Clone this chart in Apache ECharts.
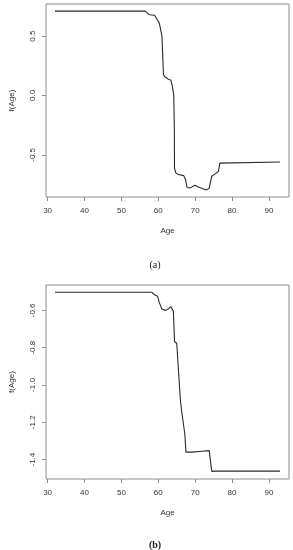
<!DOCTYPE html>
<html>
<head>
<meta charset="utf-8">
<script src="https://cdn.jsdelivr.net/npm/echarts@6/dist/echarts.min.js"></script>
<style>html,body{margin:0;padding:0;background:#fff}#c{width:293px;height:550px}</style>
</head>
<body>
<div id="c"></div>
<script>
// Panel (a)
const ageA = [32, 56.5, 57.5, 59.0, 59.5, 60.3, 61.0, 61.4, 61.7, 62.8, 63.4, 63.8, 64.2, 64.35, 64.4, 64.7, 65.4, 66.9, 67.4, 67.8, 68.7, 69.9, 70.9, 72.3, 73.1, 73.8, 74.5, 75.4, 76.3, 76.7, 76.95, 93];
const fA = [0.71, 0.71, 0.68, 0.675, 0.65, 0.607, 0.5, 0.177, 0.16, 0.135, 0.13, 0.08, 0.0, -0.28, -0.61, -0.65, -0.666, -0.675, -0.71, -0.775, -0.778, -0.756, -0.77, -0.787, -0.795, -0.78, -0.68, -0.66, -0.64, -0.57, -0.56, -0.56];
// Panel (b)
const ageB = [32, 58.3, 58.9, 59.8, 60.3, 61.0, 62.0, 62.7, 63.4, 64.1, 64.4, 65.0, 66.0, 66.4, 66.9, 67.2, 67.5, 67.8, 69.1, 71.8, 73.8, 73.95, 74.5, 75.4, 93];
const fB = [-0.503, -0.503, -0.515, -0.524, -0.56, -0.593, -0.6, -0.593, -0.58, -0.605, -0.768, -0.776, -1.083, -1.15, -1.158, -1.263, -1.36, -1.363, -1.36, -1.355, -1.352, -1.355, -1.463, -1.462, -1.462];
// Tick labels
const xTicks = [30, 40, 50, 60, 70, 80, 90];
const yTicksA = [-0.5, 0.0, 0.5];
const yTicksB = [-1.4, -1.2, -1.0, -0.8, -0.6];
const captions = ['(a)', '(b)'];

const pair = (xs, ys) => xs.map((x, i) => [x, ys[i]]);
const txt = '#333';
const boxC = '#8c8c8c';
const font = "'Liberation Sans', Arial, sans-serif";
const serif = "'Liberation Serif', 'Times New Roman', serif";

function xAxis(gi) {
  return {
    type: 'value', gridIndex: gi, min: 29.56, max: 95.44,
    axisLine: {show: false, onZero: false}, splitLine: {show: false},
    axisTick: {show: true, length: 4, customValues: xTicks, lineStyle: {color: boxC}},
    axisLabel: {customValues: xTicks, margin: 10, fontSize: 8, color: txt, fontFamily: font},
    name: 'Age', nameLocation: 'middle', nameGap: 30,
    nameTextStyle: {fontSize: 8, color: txt, fontFamily: font}
  };
}
function yAxis(gi, min, max, ticks) {
  return {
    type: 'value', gridIndex: gi, min: min, max: max,
    axisLine: {show: false, onZero: false}, splitLine: {show: false},
    axisTick: {show: true, length: 4, customValues: ticks, lineStyle: {color: boxC}},
    axisLabel: {customValues: ticks, rotate: 90, margin: 9, fontSize: 8, color: txt, fontFamily: font,
      formatter: v => v.toFixed(1)},
    name: 'f(Age)', nameLocation: 'middle', nameGap: 30, nameRotate: 90,
    nameTextStyle: {fontSize: 8, color: txt, fontFamily: font}
  };
}

const chart = echarts.init(document.getElementById('c'), null, {renderer: 'canvas'});
chart.setOption({
  animation: false,
  backgroundColor: '#fff',
  textStyle: {fontFamily: font},
  title: [
    {text: captions[0], left: 150, top: 255, textAlign: 'center',
     textStyle: {fontSize: 10, fontWeight: 'normal', color: '#222', fontFamily: serif}},
    {text: captions[1], left: 150, top: 535, textAlign: 'center',
     textStyle: {fontSize: 10, fontWeight: 'bold', color: '#222', fontFamily: serif}}
  ],
  grid: [
    {left: 41, top: 4, width: 248, height: 193, show: true, borderColor: boxC, borderWidth: 1, backgroundColor: 'transparent'},
    {left: 41, top: 285, width: 248, height: 194, show: true, borderColor: boxC, borderWidth: 1, backgroundColor: 'transparent'}
  ],
  xAxis: [xAxis(0), xAxis(1)],
  yAxis: [yAxis(0, -0.855, 0.77, yTicksA), yAxis(1, -1.504, -0.464, yTicksB)],
  series: [
    {type: 'line', xAxisIndex: 0, yAxisIndex: 0, data: pair(ageA, fA), showSymbol: false,
     lineStyle: {color: '#2a2a2a', width: 1.1}},
    {type: 'line', xAxisIndex: 1, yAxisIndex: 1, data: pair(ageB, fB), showSymbol: false,
     lineStyle: {color: '#2a2a2a', width: 1.1}}
  ]
});
</script>
</body>
</html>
